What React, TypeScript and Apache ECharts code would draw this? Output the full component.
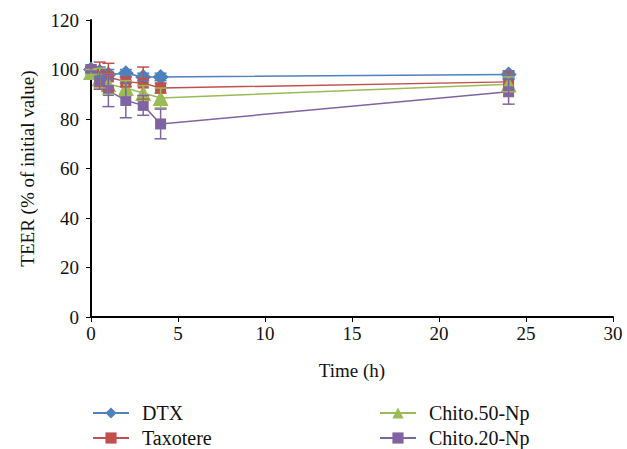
import React, { useEffect, useRef } from "react";
import * as echarts from "echarts";

const times = [0, 0.5, 1, 2, 3, 4, 24];
const seriesNames = ["DTX", "Taxotere", "Chito.50-Np", "Chito.20-Np"];
const dtx = [100, 99, 98, 98.5, 97, 97, 98];
const dtxErr = [1, 2, 2, 1.5, 1.5, 1.5, 1.5];
const taxotere = [100, 98, 97, 95, 94.5, 92.5, 95];
const taxotereErr = [1, 5, 5.5, 2, 6.5, 2, 4];
const chito50 = [99, 96.5, 94, 92.5, 90.5, 88.5, 94];
const chito50Err = [1, 4, 4, 3, 3, 4, 3];
const chito20 = [100, 95.5, 91.5, 87.5, 85.5, 78, 91];
const chito20Err = [1, 3.5, 6.5, 7, 4, 6, 5];
const xTicks = [0, 5, 10, 15, 20, 25, 30];
const yTicks = [0, 20, 40, 60, 80, 100, 120];

const colors = ["#4F81BD", "#C0504D", "#9BBB59", "#8064A2"];
const symbols = ["diamond", "rect", "triangle", "rect"];
const symbolSizes = [16, 11, 16, 11];

export default function App() {
  const ref = useRef<HTMLDivElement>(null);
  useEffect(() => {
    if (!ref.current) return;
    const chart = echarts.init(ref.current, null, { renderer: "svg" });
    const vals = [dtx, taxotere, chito50, chito20];
    const errs = [dtxErr, taxotereErr, chito50Err, chito20Err];
    const font = "'Liberation Serif', 'DejaVu Serif', serif";
    const fs = 19;
    const lineSeries: any[] = vals.map((v, i) => ({
      type: "line",
      name: seriesNames[i],
      data: times.map((t, j) => [t, v[j]]),
      symbol: symbols[i],
      symbolSize: symbolSizes[i],
      lineStyle: { color: colors[i], width: 1.5 },
      itemStyle: { color: colors[i] },
      z: 3,
    }));
    const errSeries: any[] = vals.map((v, i) => ({
      type: "custom",
      name: "err" + i,
      data: times.map((t, j) => [t, v[j] - errs[i][j], v[j] + errs[i][j]]),
      z: 4,
      silent: true,
      renderItem: (params: any, api: any) => {
        const x = api.value(0);
        const lo = api.coord([x, api.value(1)]);
        const hi = api.coord([x, api.value(2)]);
        const w = 6;
        const style = { stroke: colors[i], lineWidth: 1.5 };
        return {
          type: "group",
          children: [
            { type: "line", shape: { x1: lo[0], y1: lo[1], x2: hi[0], y2: hi[1] }, style },
            { type: "line", shape: { x1: lo[0] - w, y1: lo[1], x2: lo[0] + w, y2: lo[1] }, style },
            { type: "line", shape: { x1: hi[0] - w, y1: hi[1], x2: hi[0] + w, y2: hi[1] }, style },
          ],
        };
      },
    }));
    const legendPos = [
      { left: 92, top: 403 },
      { left: 92, top: 428 },
      { left: 379, top: 403 },
      { left: 379, top: 428 },
    ];
    const legends = seriesNames.map((n, i) => ({
      data: [n],
      left: legendPos[i].left,
      top: legendPos[i].top,
      padding: 0,
      itemWidth: 36,
      itemHeight: 14,
      textStyle: { fontFamily: font, fontSize: 20, color: "#111", padding: [0, 0, 0, 8] },
    }));
    chart.setOption({
      animation: false,
      textStyle: { fontFamily: font },
      grid: { left: 91, right: 14, top: 20, bottom: 132 },
      legend: legends,
      xAxis: {
        type: "value",
        min: xTicks[0],
        max: xTicks[xTicks.length - 1],
        interval: 5,
        name: "Time (h)",
        nameLocation: "middle",
        nameGap: 44,
        nameTextStyle: { fontFamily: font, fontSize: fs, color: "#111" },
        axisLine: { lineStyle: { color: "#000", width: 2 } },
        axisTick: { show: true, length: 5, lineStyle: { color: "#000" } },
        axisLabel: { fontFamily: font, fontSize: fs, color: "#111", margin: 7 },
        splitLine: { show: false },
      },
      yAxis: {
        type: "value",
        min: yTicks[0],
        max: yTicks[yTicks.length - 1],
        interval: 20,
        name: "TEER (% of initial value)",
        nameLocation: "middle",
        nameGap: 54,
        nameTextStyle: { fontFamily: font, fontSize: fs, color: "#111" },
        axisLine: { show: true, lineStyle: { color: "#000", width: 2 } },
        axisTick: { show: true, length: 5, lineStyle: { color: "#000" } },
        axisLabel: { fontFamily: font, fontSize: fs, color: "#111", margin: 12 },
        splitLine: { show: false },
      },
      series: [...errSeries, ...lineSeries],
    });
    return () => chart.dispose();
  }, []);
  return (
    <div
      ref={ref}
      style={{ position: "absolute", left: 0, top: 0, width: 627, height: 449 }}
    />
  );
}
